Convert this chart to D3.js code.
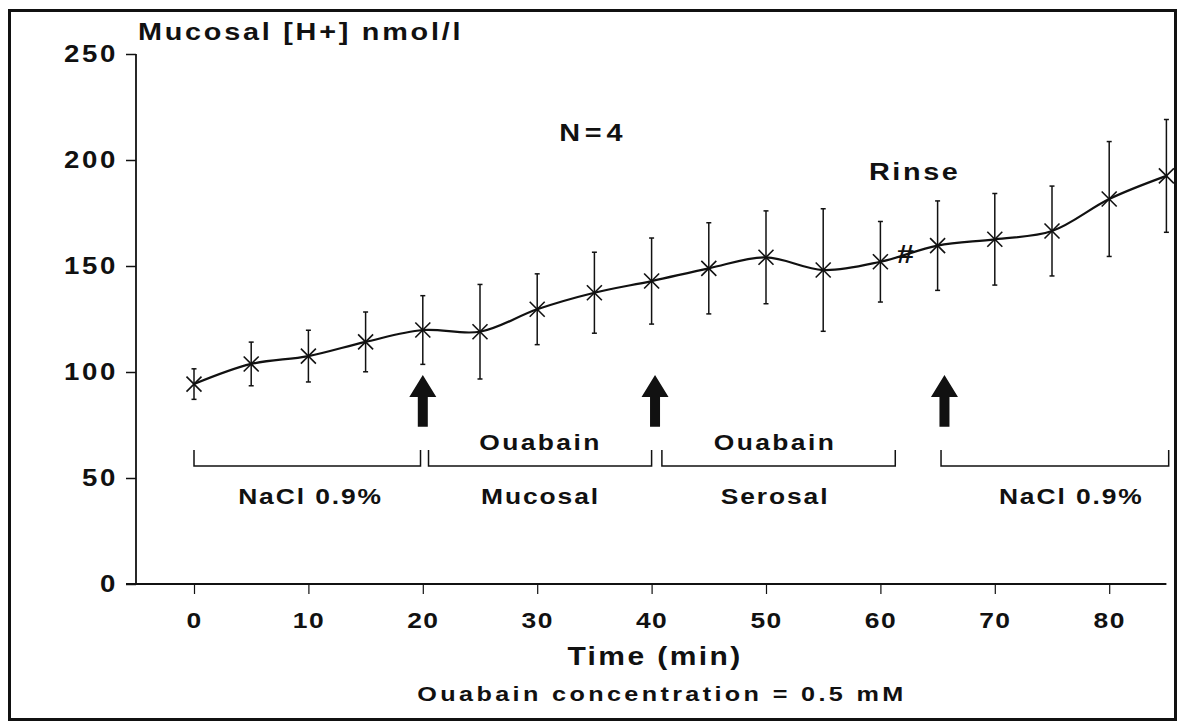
<!DOCTYPE html>
<html>
<head>
<meta charset="utf-8">
<script src="https://cdn.jsdelivr.net/npm/d3@7"></script>
<style>
  html, body { margin: 0; padding: 0; background: #fff; }
  svg { display: block; }
  text { font-family: "Liberation Sans", Arial, Helvetica, sans-serif; font-weight: bold; fill: #111; }
</style>
</head>
<body>
<svg id="chart" width="1181" height="724"></svg>
<script>
// Time points (min) and mucosal [H+] (nmol/l), mean and error (N=4)
const times = [0, 5, 10, 15, 20, 25, 30, 35, 40, 45, 50, 55, 60, 65, 70, 75, 80, 85];
const means = [94.3, 103.8, 107.5, 114.2, 119.8, 119.0, 129.6, 137.4, 142.9, 148.9, 154.1, 148.1, 152.0, 159.6, 162.6, 166.5, 181.6, 192.5];
const errs  = [7.2, 10.3, 12.2, 14.1, 16.2, 22.3, 16.7, 19.1, 20.3, 21.5, 21.9, 28.9, 19.0, 21.1, 21.6, 21.2, 27.1, 26.6];

const xTicks = [0, 10, 20, 30, 40, 50, 60, 70, 80];
const yTicks = [0, 50, 100, 150, 200, 250];

// Treatment periods: [start, end] in minutes, label above and below the bracket
const periodStart = [0, 20.5, 40.9, 65.3];
const periodEnd   = [19.8, 40.0, 61.3, 85.2];
const labelAbove  = ["", "Ouabain", "Ouabain", ""];
const labelBelow  = ["NaCl 0.9%", "Mucosal", "Serosal", "NaCl 0.9%"];
const labelAt     = [10.1, 30.2, 50.7, 76.6];

// Solution changes (arrows)
const arrowTimes = [20, 40.3, 65.6];

const svg = d3.select("#chart");

const x = d3.scaleLinear().domain([0, 85]).range([194, 1166.4]);
const y = d3.scaleLinear().domain([0, 250]).range([584, 54]);
const x0 = 136;
const WIDE = 1.2;   // horizontal stretch of the lettering

// bold, slightly extended lettering placed at (px, py)
function label(parent, px, py, str, size, spacing, anchor) {
  return parent.append("text")
    .attr("transform", `translate(${px},${py}) scale(${WIDE},1)`)
    .attr("text-anchor", anchor || "start")
    .attr("font-size", size).style("letter-spacing", spacing + "px")
    .text(str);
}
// restyle axis tick text in the same lettering
function stretchTicks(sel, size, spacing) {
  sel.each(function () {
    const t = d3.select(this);
    const tx = +t.attr("x") || 0, ty = +t.attr("y") || 0;
    t.attr("x", 0).attr("y", 0)
      .attr("transform", `translate(${tx},${ty}) scale(${WIDE},1)`)
      .attr("font-size", size).style("letter-spacing", spacing + "px")
      .attr("fill", "#111").attr("font-family", "Liberation Sans, Arial, sans-serif").attr("font-weight", "bold");
  });
}

// outer frame
svg.append("rect")
  .attr("x", 9.5).attr("y", 10.5).attr("width", 1166).attr("height", 709)
  .attr("fill", "none").attr("stroke", "#111").attr("stroke-width", 3);

// y axis
const yAxis = svg.append("g").attr("transform", `translate(${x0},0)`)
  .call(d3.axisLeft(y).tickValues(yTicks).tickSize(10).tickPadding(8).tickFormat(d3.format("d")));
yAxis.select(".domain").attr("d", `M0,${y(250)}V${y(0)}`).attr("stroke", "#111").attr("stroke-width", 1.8);
yAxis.selectAll(".tick line").attr("stroke", "#111").attr("stroke-width", 1.5);
stretchTicks(yAxis.selectAll(".tick text"), 23, 2.2);

// x axis
const xAxis = svg.append("g").attr("transform", `translate(0,${y(0)})`)
  .call(d3.axisBottom(x).tickValues(xTicks).tickSize(10).tickPadding(18).tickFormat(d3.format("d")));
xAxis.select(".domain").attr("d", `M${x0 - 10},0H${x(85)}`).attr("stroke", "#111").attr("stroke-width", 1.8);
xAxis.selectAll(".tick line").attr("stroke", "#111").attr("stroke-width", 1.2);
stretchTicks(xAxis.selectAll(".tick text"), 22, 1.2);

// axis titles
label(svg, 138, 40, "Mucosal [H+] nmol/l", 24, 2.3);
label(svg, 655, 665, "Time (min)", 25, 2, "middle");
label(svg, 662, 701, "Ouabain concentration = 0.5 mM", 21, 2.8, "middle");

// annotations
label(svg, x(34.9), y(209), "N=4", 24, 4, "middle");
label(svg, x(63.0), y(190.5), "Rinse", 24, 2.2, "middle");
label(svg, x(62.15), y(151.5), "#", 26, 0, "middle").attr("font-style", "italic");

// error bars
const bars = svg.append("g").attr("stroke", "#111").attr("stroke-width", 1.5);
times.forEach((t, i) => {
  const cx = x(t), top = y(means[i] + errs[i]), bot = y(means[i] - errs[i]);
  bars.append("line").attr("x1", cx).attr("x2", cx).attr("y1", top).attr("y2", bot);
  bars.append("line").attr("x1", cx - 2.5).attr("x2", cx + 2.5).attr("y1", top).attr("y2", top);
  bars.append("line").attr("x1", cx - 2.5).attr("x2", cx + 2.5).attr("y1", bot).attr("y2", bot);
});

// smoothed mean curve
const line = d3.line().x((d, i) => x(times[i])).y(d => y(d)).curve(d3.curveCatmullRom.alpha(0.5));
svg.append("path").datum(means).attr("d", line)
  .attr("fill", "none").attr("stroke", "#111").attr("stroke-width", 2.2);

// X markers
const mk = svg.append("g").attr("stroke", "#111").attr("stroke-width", 1.6);
times.forEach((t, i) => {
  const cx = x(t), cy = y(means[i]), s = 7.5;
  mk.append("line").attr("x1", cx - s).attr("y1", cy - s).attr("x2", cx + s).attr("y2", cy + s);
  mk.append("line").attr("x1", cx - s).attr("y1", cy + s).attr("x2", cx + s).attr("y2", cy - s);
});

// arrows marking solution changes
const arrowTip = 98.6, arrowBase = 74.2;
arrowTimes.forEach(t => {
  const cx = x(t), ty = y(arrowTip), by = y(arrowBase);
  const hw = 13.5, hh = 22, sw = 5;
  svg.append("path")
    .attr("d", `M${cx},${ty}L${cx + hw},${ty + hh}L${cx + sw},${ty + hh}L${cx + sw},${by}L${cx - sw},${by}L${cx - sw},${ty + hh}L${cx - hw},${ty + hh}Z`)
    .attr("fill", "#111");
});

// period brackets and labels
const brY = 55.7, brEnd = 63.2;
periodStart.forEach((s, i) => {
  const a = x(s), b = x(periodEnd[i]);
  svg.append("path")
    .attr("d", `M${a},${y(brEnd)}V${y(brY)}H${b}V${y(brEnd)}`)
    .attr("fill", "none").attr("stroke", "#111").attr("stroke-width", 1.5);
  if (labelAbove[i]) label(svg, x(labelAt[i]) + 1, 450, labelAbove[i], 22, 2, "middle");
  label(svg, x(labelAt[i]) + 1, 504, labelBelow[i], 22, 1.6, "middle");
});
</script>
</body>
</html>
